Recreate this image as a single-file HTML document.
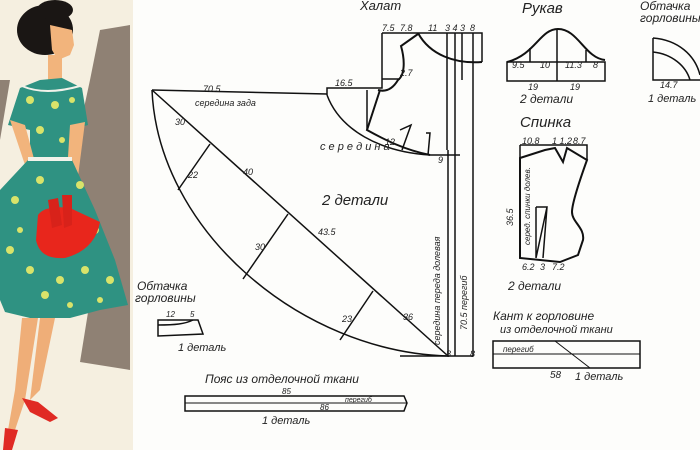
<!DOCTYPE html>
<html><head><meta charset="utf-8"><style>
html,body{margin:0;padding:0;background:#fff;}
svg{display:block}
text{font-family:"Liberation Sans","DejaVu Sans",sans-serif;font-style:italic;fill:#222}
</style></head><body>
<svg width="700" height="450" viewBox="0 0 700 450" xmlns="http://www.w3.org/2000/svg">
<rect width="700" height="450" fill="#fdfdfb"/>
<!-- left illustration panel -->
<rect x="0" y="0" width="133" height="450" fill="#f5efe0"/>
<path d="M100,30 L130,25 L130,370 L80,362 L90,300 L70,250 L75,150 L90,80 Z" fill="#8f8174"/>
<path d="M0,80 L10,80 L0,140 Z" fill="#8f8174"/>
<!-- hair -->
<ellipse cx="45" cy="30" rx="28" ry="25" fill="#1a1614"/>
<ellipse cx="55" cy="10" rx="18" ry="10" fill="#1a1614"/>
<!-- face -->
<path d="M50,25 L72,30 L74,45 L70,55 L58,60 L52,50 Z" fill="#f2b47c"/>
<rect x="48" y="55" width="14" height="25" fill="#f2b47c"/>
<!-- bodice -->
<path d="M20,88 L40,80 L62,78 L82,88 L88,125 L70,130 L70,160 L30,160 L30,130 L8,125 Z" fill="#2f9282"/>
<path d="M22,86 Q45,96 80,86" stroke="#f2f2ea" stroke-width="2" fill="none"/>
<!-- arms -->
<path d="M10,120 L25,125 L45,200 L40,210 Z" fill="#f2b47c"/>
<path d="M70,125 L85,122 L75,200 L65,205 Z" fill="#f2b47c"/>
<!-- skirt -->
<path d="M28,160 L72,160 L95,210 L115,260 L128,305 L100,310 L70,318 L30,318 L5,312 L0,300 L0,190 Z" fill="#2f9282"/>
<rect x="28" y="157" width="44" height="4" fill="#f2f2ea"/>
<!-- pattern dots -->
<g fill="#d9e36a">
<circle cx="30" cy="100" r="4"/><circle cx="55" cy="105" r="4"/><circle cx="72" cy="100" r="3"/><circle cx="40" cy="130" r="4"/><circle cx="62" cy="140" r="3"/>
<circle cx="15" cy="200" r="4"/><circle cx="40" cy="180" r="4"/><circle cx="80" cy="185" r="4"/><circle cx="95" cy="230" r="4"/><circle cx="10" cy="250" r="4"/><circle cx="30" cy="270" r="4"/><circle cx="60" cy="280" r="4"/><circle cx="85" cy="270" r="4"/><circle cx="110" cy="280" r="4"/><circle cx="45" cy="295" r="4"/><circle cx="20" cy="230" r="3"/><circle cx="100" cy="300" r="3"/><circle cx="70" cy="305" r="3"/>
</g>
<!-- bag -->
<path d="M38,215 Q45,205 70,208 L100,222 Q95,250 65,258 Q40,260 36,240 Z" fill="#e8261c"/>
<path d="M48,200 L58,198 L62,225 L52,228 Z" fill="#d8221a"/>
<path d="M62,195 L72,195 L72,225 L64,228 Z" fill="#d8221a"/>
<!-- legs -->
<path d="M22,318 L38,318 L25,400 L15,430 L8,430 L15,390 Z" fill="#efae78"/>
<path d="M40,318 L55,318 L40,390 L30,400 Z" fill="#efae78"/>
<path d="M22,398 L38,402 L58,418 L50,422 L30,412 Z" fill="#e02a24"/>
<path d="M5,428 L18,430 L12,450 L3,450 Z" fill="#e02a24"/>

<!-- main pattern -->
<g fill="none" stroke="#111" stroke-width="1.5">
<path d="M152,90 L327,94"/>
<path d="M152,90 C158,230 300,352 448,356"/>
<path d="M152,90 L448,356"/>
<path d="M210,144 L178,190 M288,214 L243,279 M373,291 L340,340"/>
<path d="M400,356 L473,356"/>
<path d="M448,150 L448,356 M455,33 L455,356 M473,33 L473,356"/>
<!-- bodice -->
<path d="M382,33 L482,33 L482,62 M382,33 L382,88 L327,88 L327,95"/>
<path d="M447,33 L447,150 M462,33 L462,80"/>
<path d="M327,95 C340,130 380,152 430,155 L460,155"/>
<path d="M418,33 C430,55 455,64 482,62" stroke-width="2"/>
<path d="M418,34 L401,46 C405,60 405,75 398,80 C392,90 385,92 378,90" stroke-width="2"/>
<path d="M380,90 L367,130 C385,140 405,150 430,155" stroke-width="2"/>
<path d="M367,90 L367,130 M382,79 L400,79 M400,130 L411,125 L402,150 M426,133 L430,133 L428,155"/>
</g>
<g font-size="9">
<text x="360" y="10" font-size="13">Халат</text>
<text x="382" y="31">7.5</text><text x="400" y="31">7.8</text><text x="428" y="31">11</text><text x="445" y="31">3 4 3</text><text x="470" y="31">8</text>
<text x="203" y="92">70.5</text><text x="195" y="106">середина зада</text>
<text x="335" y="86">16.5</text>
<text x="400" y="76">2.7</text>
<text x="385" y="145">12</text><text x="438" y="163">9</text>
<text x="320" y="150" font-size="11">с е р е д и н а</text>
<text x="175" y="125">30</text><text x="188" y="178">22</text><text x="243" y="175">40</text><text x="255" y="250">30</text><text x="318" y="235">43.5</text><text x="342" y="322">23</text><text x="403" y="320">36</text>
<text x="322" y="205" font-size="15">2 детали</text>
<text x="446" y="357">8</text><text x="470" y="357">8</text>
<text x="440" y="345" font-size="9" transform="rotate(-90 440 345)">середина переда долевая</text>
<text x="467" y="330" font-size="9" transform="rotate(-90 467 330)">70.5 перегиб</text>
</g>
<!-- sleeve -->
<g fill="none" stroke="#111" stroke-width="1.5">
<path d="M507,81 L605,81 L605,62 L507,62 Z"/>
<path d="M507,62 C535,55 540,29 558,29 C578,29 585,58 605,60" stroke-width="2"/>
<path d="M557,30 L557,81 M530,48 L530,62 M586,50 L586,62"/>
</g>
<g font-size="9">
<text x="522" y="13" font-size="15">Рукав</text>
<text x="512" y="68">9.5</text><text x="540" y="68">10</text><text x="565" y="68">11.3</text><text x="593" y="68">8</text>
<text x="528" y="90">19</text><text x="570" y="90">19</text>
<text x="520" y="103" font-size="12">2 детали</text>
</g>
<!-- facing top right -->
<g fill="none" stroke="#111" stroke-width="1.5">
<path d="M653,38 C678,40 695,55 700,75 M653,52 C672,54 686,66 690,80 M653,38 L653,80 L700,80"/>
</g>
<g font-size="9">
<text x="640" y="10" font-size="12">Обтачка</text><text x="640" y="22" font-size="12">горловины</text>
<text x="660" y="88">14.7</text>
<text x="648" y="102" font-size="11">1 деталь</text>
</g>
<!-- back -->
<g fill="none" stroke="#111" stroke-width="1.5">
<path d="M520,145 L587,145 L587,160 M520,145 L520,158"/>
<path d="M520,158 L545,150 L555,148 L563,162 L567,148 L587,160 C578,185 572,205 572,212 C572,222 585,228 583,240 L578,255 L560,262 L520,258 Z" stroke-width="2"/>
<path d="M536,207 L547,207 L536,258 M547,207 L543,258 M536,207 L536,258"/>
</g>
<g font-size="9">
<text x="520" y="127" font-size="15">Спинка</text>
<text x="522" y="144">10.8</text><text x="552" y="144">1 1.2</text><text x="573" y="144">8.7</text>
<text x="513" y="226" transform="rotate(-90 513 226)">36.5</text>
<text x="530" y="245" font-size="8" transform="rotate(-90 530 245)">серед. спинки долев.</text>
<text x="522" y="270">6.2</text><text x="540" y="270">3</text><text x="552" y="270">7.2</text>
<text x="508" y="290" font-size="12">2 детали</text>
</g>
<!-- band -->
<g fill="none" stroke="#111" stroke-width="1.5">
<rect x="493" y="341" width="147" height="27"/>
<path d="M493,354 L640,354 M555,341 L590,368" stroke-width="1"/>
</g>
<g font-size="10">
<text x="493" y="320" font-size="12">Кант к горловине</text>
<text x="500" y="333" font-size="11">из отделочной ткани</text>
<text x="503" y="352" font-size="8">перегиб</text>
<text x="550" y="378">58</text><text x="575" y="380" font-size="11">1 деталь</text>
</g>
<!-- small facing -->
<g fill="none" stroke="#111" stroke-width="1.5">
<path d="M158,320 L198,320 L203,334 L158,336 Z"/>
<path d="M158,325 C175,325 185,324 193,320"/>
</g>
<g font-size="11">
<text x="137" y="290" font-size="12">Обтачка</text><text x="135" y="302" font-size="12">горловины</text>
<text x="166" y="317" font-size="8">12</text><text x="190" y="317" font-size="8">5</text>
<text x="178" y="351">1 деталь</text>
</g>
<!-- belt -->
<g fill="none" stroke="#111" stroke-width="1.5">
<path d="M185,396 L404,396 L407,403 L404,411 L185,411 Z"/>
<path d="M185,403 L407,403" stroke-width="1"/>
</g>
<g font-size="11">
<text x="205" y="383" font-size="12">Пояс   из отделочной ткани</text>
<text x="282" y="394" font-size="8">85</text><text x="320" y="410" font-size="8">86</text><text x="345" y="402" font-size="7">перегиб</text>
<text x="262" y="424">1 деталь</text>
</g>
</svg>
</body></html>
